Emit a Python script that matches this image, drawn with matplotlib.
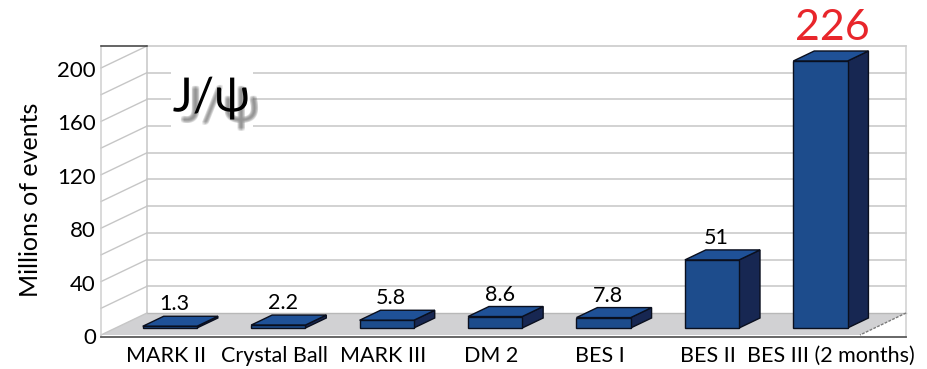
import matplotlib
matplotlib.use("Agg")
import matplotlib.pyplot as plt
import matplotlib.patheffects as pe
from matplotlib.patches import Polygon, Rectangle

# ---- data -------------------------------------------------------------
experiments = ["MARK II", "Crystal Ball", "MARK III", "DM 2", "BES I",
               "BES II", "BES III (2 months)"]
events_millions = [1.3, 2.2, 5.8, 8.6, 7.8, 51, 226]
value_labels = ["1.3", "2.2", "5.8", "8.6", "7.8", "51", "226"]
highlighted = [False, False, False, False, False, False, True]
y_ticks = [0, 40, 80, 120, 160, 200]
y_max = 200
grid_step = 20

plt.rcParams['font.family'] = ['Lato', 'DejaVu Sans']

W, H = 928, 369
fig = plt.figure(figsize=(W / 100, H / 100), dpi=100)

# back wall of the 3-D box, in figure pixels
BL, BR, BB, BT = 147, 906, 313, 46
ax = fig.add_axes([BL / W, 1 - BB / H, (BR - BL) / W, (BB - BT) / H])
n = len(experiments)
ax.set_xlim(-0.5, n - 0.5)
ax.set_ylim(0, y_max)
ax.axis('off')

# oblique depth: the front edge sits 46 px left and 22 px below the back wall
px_x = (BR - BL) / n
px_y = (BB - BT) / y_max
DX = 46 / px_x
DY = 22 / px_y


def P(x, y, d):
    """Project a point at depth d (0 = back wall, 1 = front edge)."""
    return (x - d * DX, y - d * DY)


x0, x1 = -0.5, n - 0.5
grid_c = '#c6c6c6'
frame_bottom = -DY - 2 / px_y

# floor
ax.add_patch(Polygon([P(x0, 0, 0), P(x1, 0, 0), P(x1, 0, 1), P(x0, 0, 1)],
                     closed=True, fc='#d1d1d3', ec='none', zorder=1, clip_on=False))
ax.plot(*zip(P(x1, 0, 0), P(x1, 0, 1)), color='#7a7a7a', lw=1, ls=(0, (2, 1)),
        zorder=2, clip_on=False)

# back-wall gridlines and outline
for v in range(grid_step, y_max, grid_step):
    ax.plot([x0, x1], [v, v], color=grid_c, lw=1.1, zorder=1, clip_on=False)
ax.plot([x0, x1], [y_max, y_max], color=grid_c, lw=1.1, zorder=1, clip_on=False)
ax.plot([x0, x0], [0, y_max], color=grid_c, lw=1.1, zorder=1, clip_on=False)
ax.plot([x0, x1], [0, 0], color='#b8b8b8', lw=1.0, zorder=1, clip_on=False)

# side-wall gridlines
for v in range(0, y_max + 1, grid_step):
    ax.plot(*zip(P(x0, v, 0), P(x0, v, 1)), color=grid_c, lw=1.0, zorder=1,
            clip_on=False)

# outer frame
fx0 = P(x0, 0, 1)[0]
ax.plot([fx0, fx0], [frame_bottom, y_max], color='#cfcfcf', lw=1.1, zorder=1, clip_on=False)
ax.plot([x1, x1], [frame_bottom, y_max], color='#cfcfcf', lw=1.1, zorder=1, clip_on=False)
ax.plot([fx0, x0], [y_max, y_max], color='#3a3a3a', lw=1.1, zorder=2, clip_on=False)
ax.plot([fx0, x1], [frame_bottom, frame_bottom], color='#5a5a5a', lw=1.3, zorder=2,
        clip_on=False)

# bars
d_back, d_front = 5 / 22, 15 / 22
half = 0.25
for i, v in enumerate(events_millions):
    h = min(v, y_max)
    front = Rectangle(P(i - half, 0, d_front), 2 * half, h, fc='#1d4c8c',
                      ec='#0a0f1e', lw=1.0, zorder=5, clip_on=False)
    top = Polygon([P(i - half, h, d_front), P(i + half, h, d_front),
                   P(i + half, h, d_back), P(i - half, h, d_back)], closed=True,
                  fc='#1f5197', ec='#0a0f1e', lw=1.0, zorder=5, clip_on=False)
    side = Polygon([P(i + half, 0, d_front), P(i + half, h, d_front),
                    P(i + half, h, d_back), P(i + half, 0, d_back)], closed=True,
                   fc='#172752', ec='#0a0f1e', lw=1.0, zorder=5, clip_on=False)
    for patch in (side, top, front):
        ax.add_patch(patch)

    lx = P(i, h, 0.585)[0]
    if highlighted[i]:
        ax.annotate(value_labels[i], xy=(lx, h), xytext=(7, 6),
                    textcoords='offset pixels', ha='center', va='baseline',
                    fontsize=31, color='#e8262b', zorder=6, annotation_clip=False)
    else:
        ax.annotate(value_labels[i], xy=(lx, h), xytext=(0, 1),
                    textcoords='offset pixels', ha='center', va='baseline',
                    fontsize=15.5, color='black', zorder=6, annotation_clip=False)

    # category label under the bar; the long last label sits a little right
    nudge = 10 if i == n - 1 else -4
    ax.annotate(experiments[i], xy=(P(i, 0, d_front)[0], P(i, 0, 1)[1]),
                xytext=(nudge, -27), textcoords='offset pixels', ha='center',
                va='baseline', fontsize=15.5, color='black', annotation_clip=False)

# value axis labels along the front edge
for v in y_ticks:
    ax.annotate(str(v), xy=P(x0, v, 1), xytext=(-5, -3), textcoords='offset pixels',
                ha='right', va='center', fontsize=16, color='black',
                annotation_clip=False)

fig.text(31 / W, 1 - 200 / H, 'Millions of events', rotation=90, ha='center',
         va='center', fontsize=18, color='black')

# J/psi title on a white patch, with a soft offset shadow built from path effects
ax.add_patch(Rectangle((0.032, 0.68), 0.108, 0.23, transform=ax.transAxes,
                       fc='white', ec='none', zorder=3))
shadow = [pe.SimplePatchShadow(offset=(6.5 + dx, -7 + dy), shadow_rgbFace='#7d7d7d',
                               alpha=0.17)
          for dx, dy in [(0, 0), (1.1, 0), (-1.1, 0), (0, 1.1), (0, -1.1),
                         (0.9, 0.9), (-0.9, -0.9), (0.9, -0.9), (-0.9, 0.9)]]
ax.text(0.034, 0.755, 'J/ψ', transform=ax.transAxes, ha='left', va='baseline',
        fontsize=34, color='black', zorder=4,
        path_effects=shadow + [pe.Normal()])

fig.savefig('out.png', dpi=100)
